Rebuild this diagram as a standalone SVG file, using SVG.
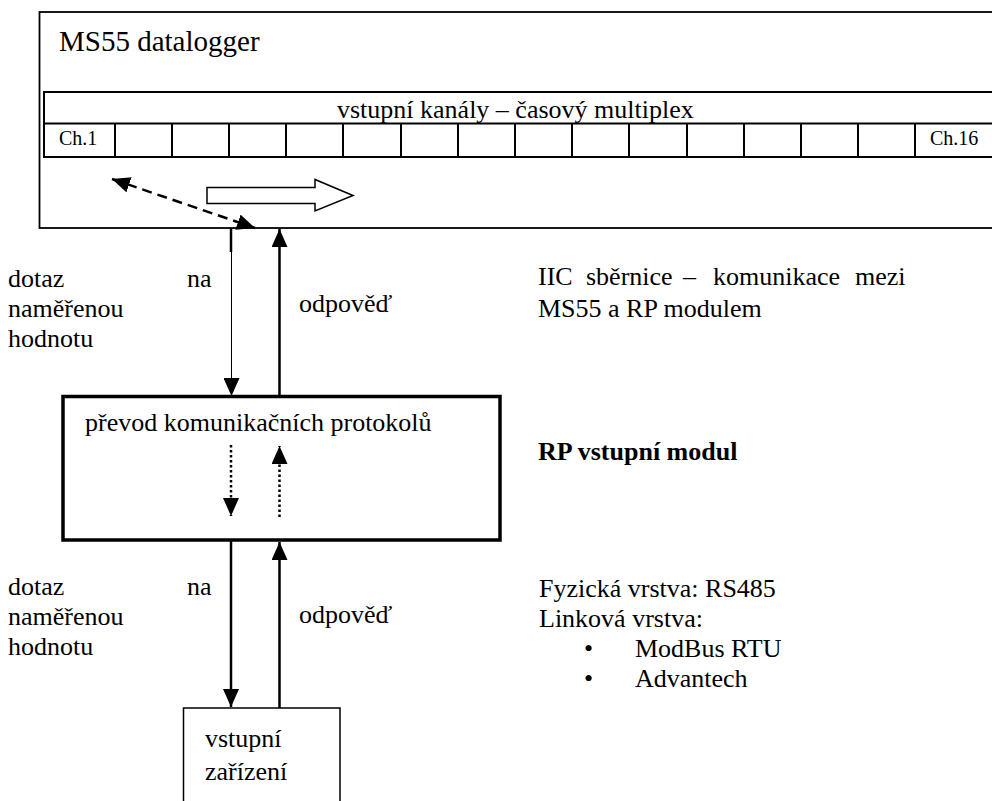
<svg xmlns="http://www.w3.org/2000/svg" width="992" height="801" viewBox="0 0 992 801">
<style>
text{font-family:"Liberation Serif","Times New Roman",serif;fill:#000;}
.t{font-size:26px;}
.ch{font-size:20px;}
.title{font-size:29px;}
.b{font-weight:bold;}
.box{fill:#fff;stroke:#000;}
.cell{fill:none;stroke:#000;stroke-width:2;}
.solid{stroke:#000;stroke-width:2.5;fill:none;}
.thin{stroke:#000;stroke-width:1;fill:none;}
.dash{stroke:#000;stroke-width:2.5;fill:none;stroke-dasharray:10 6;}
.dot{stroke:#000;stroke-width:2.5;fill:none;stroke-dasharray:2.5 2.5;}
</style>
<defs>
<marker id="ah" viewBox="0 0 18 16" refX="18" refY="8" markerWidth="18" markerHeight="16" markerUnits="userSpaceOnUse" orient="auto-start-reverse">
<path d="M0,0 L18,8 L0,16 Z" fill="#000"/>
</marker>
</defs>
<rect width="992" height="801" fill="#fff"/>

<g id="ms55">
<rect class="box" x="39.5" y="12" width="970" height="216" stroke-width="1.8"/>
<text class="title" x="59" y="51">MS55 datalogger</text>
</g>

<g id="channels">
<rect class="cell" x="44" y="92" width="960" height="65"/>
<line class="cell" x1="44" y1="123.5" x2="1004" y2="123.5"/>
<path class="cell" d="M115,123.5V157M172,123.5V157M229,123.5V157M286,123.5V157M343,123.5V157M401,123.5V157M458,123.5V157M515,123.5V157M572,123.5V157M629,123.5V157M687,123.5V157M744,123.5V157M801,123.5V157M858,123.5V157M915,123.5V157"/>
<text class="t" x="337" y="118">vstupní kanály – časový multiplex</text>
<text class="ch" x="59" y="145">Ch.1</text>
<text class="ch" x="930" y="145">Ch.16</text>
<path d="M207,187.5 H315 V179.5 L353,195.5 L315,211 V203.5 H207 Z" fill="#fff" stroke="#000" stroke-width="1.5"/>
</g>

<g id="rp">
<rect class="box" x="63" y="396.5" width="437" height="143.5" stroke-width="3.5"/>
<text class="t" x="85" y="431">převod komunikačních protokolů</text>
</g>

<g id="device">
<path d="M183.5,805 V708 H340 V805" fill="#fff" stroke="#000" stroke-width="1.5"/>
<text class="t" x="205" y="747">vstupní</text>
<text class="t" x="205" y="780">zařízení</text>
</g>

<g id="connectors">
<line class="dash" x1="112" y1="179" x2="255" y2="228" marker-start="url(#ah)" marker-end="url(#ah)"/>
<line class="solid" x1="231" y1="228" x2="231" y2="252"/>
<line class="thin" x1="231.5" y1="250" x2="231.5" y2="396" marker-end="url(#ah)"/>
<line class="solid" x1="279.5" y1="396" x2="279.5" y2="229" marker-end="url(#ah)"/>
<line class="dot" x1="231" y1="445" x2="231" y2="516" marker-end="url(#ah)"/>
<line class="dot" x1="279.5" y1="517" x2="279.5" y2="446" marker-end="url(#ah)"/>
<line class="solid" x1="231" y1="541" x2="231" y2="707" marker-end="url(#ah)"/>
<line class="solid" x1="279.5" y1="708" x2="279.5" y2="542" marker-end="url(#ah)"/>
</g>

<g id="labels">
<text class="t" y="287"><tspan x="8">dotaz</tspan><tspan x="187">na</tspan></text>
<text class="t" x="8" y="317">naměřenou</text>
<text class="t" x="8" y="347">hodnotu</text>
<text class="t" x="299" y="312">odpověď</text>
<text class="t" y="595"><tspan x="8">dotaz</tspan><tspan x="187">na</tspan></text>
<text class="t" x="8" y="625">naměřenou</text>
<text class="t" x="8" y="655">hodnotu</text>
<text class="t" x="299" y="623">odpověď</text>
<text class="t" y="285"><tspan x="538">IIC</tspan><tspan x="586">sběrnice</tspan><tspan x="683">–</tspan><tspan x="713">komunikace</tspan><tspan x="855">mezi</tspan></text>
<text class="t" x="538" y="317">MS55 a RP modulem</text>
<text class="t b" x="538" y="460">RP vstupní modul</text>
<text class="t" x="539" y="597">Fyzická vrstva: RS485</text>
<text class="t" x="539" y="627">Linková vrstva:</text>
<text class="t" x="584" y="657">•</text>
<text class="t" x="635" y="657">ModBus RTU</text>
<text class="t" x="584" y="687">•</text>
<text class="t" x="635" y="687">Advantech</text>
</g>
</svg>
